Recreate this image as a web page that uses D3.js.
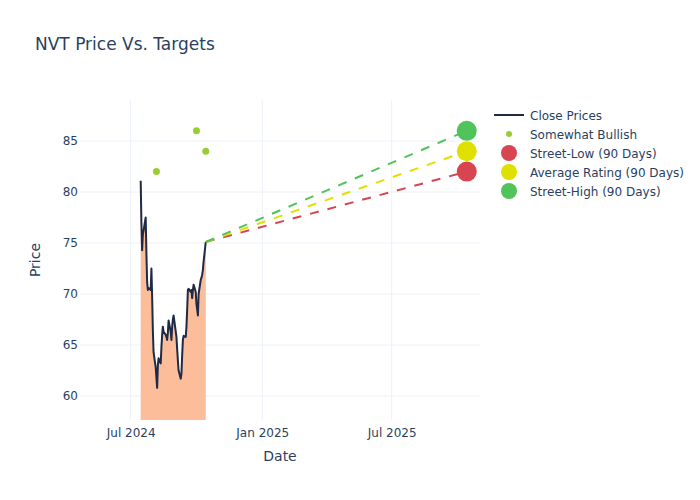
<!DOCTYPE html>
<html>
<head>
<meta charset="utf-8">
<script src="https://cdn.jsdelivr.net/npm/d3@7"></script>
<style>
  body { margin: 0; background: #fff; }
  svg { font-family: "DejaVu Sans", "Open Sans", sans-serif; }
</style>
</head>
<body>
<svg id="chart" width="700" height="500"></svg>
<script>
// ---- data ----
const closeDates = [
  "2024-07-15","2024-07-16","2024-07-17","2024-07-18","2024-07-19",
  "2024-07-22","2024-07-23","2024-07-24","2024-07-25","2024-07-26",
  "2024-07-29","2024-07-30","2024-07-31","2024-08-01","2024-08-02",
  "2024-08-05","2024-08-06","2024-08-07","2024-08-08","2024-08-09",
  "2024-08-12","2024-08-13","2024-08-14","2024-08-15","2024-08-16",
  "2024-08-19","2024-08-20","2024-08-21","2024-08-22","2024-08-23",
  "2024-08-26","2024-08-27","2024-08-28","2024-08-29","2024-08-30",
  "2024-09-03","2024-09-04","2024-09-05","2024-09-06",
  "2024-09-09","2024-09-10","2024-09-11","2024-09-12","2024-09-13",
  "2024-09-16","2024-09-17","2024-09-18","2024-09-19","2024-09-20",
  "2024-09-23","2024-09-24","2024-09-25","2024-09-26","2024-09-27",
  "2024-09-30","2024-10-01","2024-10-02","2024-10-03","2024-10-04",
  "2024-10-07","2024-10-08","2024-10-09","2024-10-10","2024-10-11",
  "2024-10-14"
];
const closeValues = [
  81.1, 77.0, 74.3, 75.8, 76.2,
  77.5, 74.0, 71.2, 70.4, 70.6,
  70.4, 72.5, 69.8, 66.5, 64.3,
  62.8, 61.8, 60.8, 63.0, 63.7,
  63.2, 64.8, 66.0, 66.8, 66.3,
  66.0, 65.8, 65.5, 66.2, 67.4,
  66.3, 65.5, 66.8, 67.5, 67.9,
  65.8, 64.6, 63.5, 62.5,
  61.7, 62.2, 64.0, 65.5, 65.9,
  65.8, 66.8, 68.5, 70.4, 70.5,
  70.2, 70.4, 69.6, 70.4, 70.9,
  70.2, 69.0, 68.5, 67.9, 70.0,
  71.4, 71.6, 71.9, 72.4, 73.2,
  75.1
];
const bullishDates = ["2024-08-06", "2024-10-01", "2024-10-14"];
const bullishValues = [82, 86, 84];
const targetStartDate = "2024-10-14";
const targetEndDate = "2025-10-14";
const targetNames = ["Street-Low (90 Days)", "Average Rating (90 Days)", "Street-High (90 Days)"];
const targetValues = [82, 84, 86];
const targetColors = ["#d64550", "#e0e000", "#50c35a"];
const legendNames = ["Close Prices", "Somewhat Bullish"].concat(targetNames);
const xTickDates = ["2024-07-01", "2025-01-01", "2025-07-01"];
const xTickLabels = ["Jul 2024", "Jan 2025", "Jul 2025"];
const yTicks = [60, 65, 70, 75, 80, 85];

// ---- layout ----
const parse = d3.utcParse("%Y-%m-%d");
const svg = d3.select("#chart");
const L = 80, R = 480, T = 100, B = 420;
const textColor = "#2a3f5f";
const gridColor = "#ebf0f8";

const x = d3.scaleUtc()
  .domain([new Date(Date.UTC(2024, 3, 21, 3)), new Date(Date.UTC(2025, 10, 1, 12))])
  .range([L, R]);
const y = d3.scaleLinear().domain([57.65, 89.02]).range([B, T]);

svg.append("defs").append("clipPath").attr("id", "clip")
  .append("rect").attr("x", L).attr("y", T).attr("width", R - L).attr("height", B - T);

// title
svg.append("text").attr("x", 35).attr("y", 50).attr("fill", textColor)
  .attr("font-size", 17).text("NVT Price Vs. Targets");

// grid
const g = svg.append("g");
g.selectAll(".yg").data(yTicks).enter().append("line")
  .attr("x1", L).attr("x2", R).attr("y1", d => y(d)).attr("y2", d => y(d))
  .attr("stroke", gridColor).attr("stroke-width", 1);
g.selectAll(".xg").data(xTickDates).enter().append("line")
  .attr("x1", d => x(parse(d))).attr("x2", d => x(parse(d)))
  .attr("y1", T).attr("y2", B)
  .attr("stroke", gridColor).attr("stroke-width", 1);

// axes labels via d3 axes
const yAxis = d3.axisLeft(y).tickValues(yTicks).tickSize(0).tickPadding(2);
const yg = svg.append("g").attr("transform", `translate(${L},0)`).call(yAxis);
yg.select(".domain").remove();
yg.selectAll("text").attr("fill", textColor).attr("font-size", 12)
  .attr("font-family", "DejaVu Sans, sans-serif");

const xAxis = d3.axisBottom(x).tickValues(xTickDates.map(parse))
  .tickFormat((d, i) => xTickLabels[i]).tickSize(0).tickPadding(8);
const xg = svg.append("g").attr("transform", `translate(0,${B})`).call(xAxis);
xg.select(".domain").remove();
xg.selectAll("text").attr("fill", textColor).attr("font-size", 12)
  .attr("font-family", "DejaVu Sans, sans-serif");

svg.append("text").attr("x", (L + R) / 2).attr("y", 461).attr("text-anchor", "middle")
  .attr("fill", textColor).attr("font-size", 14).text("Date");
svg.append("text").attr("transform", `translate(40,${(T + B) / 2}) rotate(-90)`)
  .attr("text-anchor", "middle").attr("fill", textColor).attr("font-size", 14).text("Price");

// data series
const closeData = closeDates.map((d, i) => ({ date: parse(d), value: closeValues[i] }));
const plot = svg.append("g").attr("clip-path", "url(#clip)");

const area = d3.area().x(d => x(d.date)).y0(y(0)).y1(d => y(d.value));
plot.append("path").datum(closeData).attr("d", area)
  .attr("fill", "#fcbd9a").attr("stroke", "none");

const line = d3.line().x(d => x(d.date)).y(d => y(d.value));
plot.append("path").datum(closeData).attr("d", line)
  .attr("fill", "none").attr("stroke", "#1f2a44").attr("stroke-width", 2)
  .attr("stroke-linejoin", "round");

// target dashed lines
const startVal = closeValues[closeValues.length - 1];
targetValues.forEach((v, i) => {
  const pts = [{ date: parse(targetStartDate), value: startVal }, { date: parse(targetEndDate), value: v }];
  plot.append("path").datum(pts).attr("d", line)
    .attr("fill", "none").attr("stroke", targetColors[i]).attr("stroke-width", 2)
    .attr("stroke-dasharray", "9,9");
});

// bullish points
plot.selectAll(".bull").data(bullishDates).enter().append("circle")
  .attr("cx", d => x(parse(d))).attr("cy", (d, i) => y(bullishValues[i]))
  .attr("r", 3.5).attr("fill", "#9acd32");

// target markers
plot.selectAll(".tgt").data(targetValues).enter().append("circle")
  .attr("cx", x(parse(targetEndDate))).attr("cy", d => y(d))
  .attr("r", 10).attr("fill", (d, i) => targetColors[i]);

// legend
const lg = svg.append("g");
const ly0 = 115, ldy = 19;
legendNames.forEach((name, i) => {
  const yy = ly0 + i * ldy;
  if (i === 0) {
    lg.append("line").attr("x1", 494).attr("x2", 524).attr("y1", yy).attr("y2", yy)
      .attr("stroke", "#1f2a44").attr("stroke-width", 2);
  } else if (i === 1) {
    lg.append("circle").attr("cx", 509).attr("cy", yy).attr("r", 3).attr("fill", "#9acd32");
  } else {
    lg.append("circle").attr("cx", 509).attr("cy", yy).attr("r", 8).attr("fill", targetColors[i - 2]);
  }
  lg.append("text").attr("x", 530).attr("y", yy + 4.5).attr("fill", textColor)
    .attr("font-size", 12).text(name);
});
</script>
</body>
</html>
